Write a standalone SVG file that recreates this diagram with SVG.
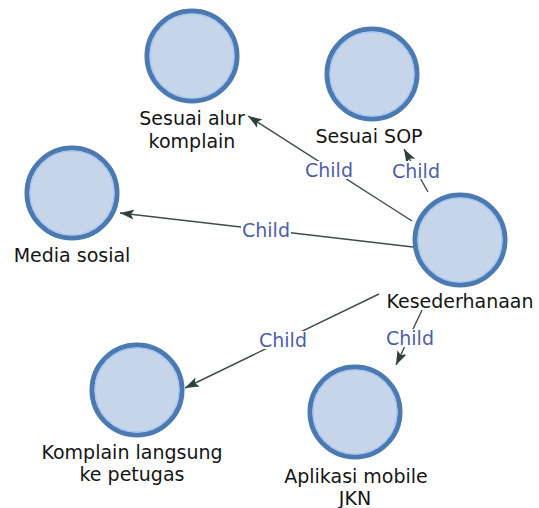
<svg xmlns="http://www.w3.org/2000/svg" width="539" height="508" viewBox="0 0 539 508">
  <style>
    .ring { fill: #c7d5ea; stroke: #4b79b2; stroke-width: 5; }
    .inner { fill: none; stroke: #a9c7ee; stroke-width: 1.5; }
    .name { font-family: "DejaVu Sans", "Liberation Sans", sans-serif; font-size: 19px; fill: #151515; text-anchor: middle; }
    .edge { stroke: #3f4d47; stroke-width: 1.4; fill: none; marker-end: url(#head); }
    .tag-bg { fill: #ffffff; }
    .tag { font-family: "DejaVu Sans", "Liberation Sans", sans-serif; font-size: 19px; fill: #4d5ea9; text-anchor: middle; }
  </style>
  <defs>
    <marker id="head" viewBox="0 -6 15 12" refX="14" refY="0" markerWidth="15" markerHeight="12" markerUnits="userSpaceOnUse" orient="auto">
      <path d="M0,-5 L14,0 L0,5 L3,0 z" fill="#2f4338"/>
    </marker>
  </defs>
  <rect width="539" height="508" fill="#ffffff"/>

  <!-- relations: lines first, then the labels on white patches that break them -->
  <g id="edges">
    <line class="edge" x1="413" y1="247" x2="120" y2="213"/>
    <line class="edge" x1="412" y1="221" x2="248" y2="116"/>
    <line class="edge" x1="428" y1="192" x2="404" y2="149"/>
    <line class="edge" x1="379" y1="294" x2="185" y2="388"/>
    <line class="edge" x1="422" y1="310" x2="396" y2="365"/>

    <rect class="tag-bg" x="241" y="221" width="50" height="18"/>
    <text class="tag" x="266" y="237">Child</text>
    <rect class="tag-bg" x="304" y="161" width="50" height="18"/>
    <text class="tag" x="329" y="177">Child</text>
    <rect class="tag-bg" x="391" y="161" width="50" height="18"/>
    <text class="tag" x="416" y="178">Child</text>
    <rect class="tag-bg" x="258" y="331" width="50" height="18"/>
    <text class="tag" x="283" y="347">Child</text>
    <rect class="tag-bg" x="385" y="329" width="50" height="18"/>
    <text class="tag" x="410" y="345">Child</text>
  </g>

  <g id="node-sesuai-alur">
    <circle class="ring" cx="192" cy="56" r="45"/>
    <circle class="inner" cx="192" cy="56" r="42"/>
    <text class="name" x="192" y="125">Sesuai alur</text>
    <text class="name" x="192" y="148">komplain</text>
  </g>

  <g id="node-sesuai-sop">
    <circle class="ring" cx="372" cy="74" r="45"/>
    <circle class="inner" cx="372" cy="74" r="42"/>
    <text class="name" x="369" y="143">Sesuai SOP</text>
  </g>

  <g id="node-media-sosial">
    <circle class="ring" cx="72" cy="193" r="45"/>
    <circle class="inner" cx="72" cy="193" r="42"/>
    <text class="name" x="72" y="262">Media sosial</text>
  </g>

  <g id="node-kesederhanaan">
    <circle class="ring" cx="460" cy="240" r="45"/>
    <circle class="inner" cx="460" cy="240" r="42"/>
    <text class="name" x="460" y="308">Kesederhanaan</text>
  </g>

  <g id="node-komplain-langsung">
    <circle class="ring" cx="137" cy="390" r="45"/>
    <circle class="inner" cx="137" cy="390" r="42"/>
    <text class="name" x="132" y="459">Komplain langsung</text>
    <text class="name" x="132" y="481">ke petugas</text>
  </g>

  <g id="node-aplikasi-jkn">
    <circle class="ring" cx="355" cy="412" r="45"/>
    <circle class="inner" cx="355" cy="412" r="42"/>
    <text class="name" x="356" y="483">Aplikasi mobile</text>
    <text class="name" x="355" y="505">JKN</text>
  </g>
</svg>
